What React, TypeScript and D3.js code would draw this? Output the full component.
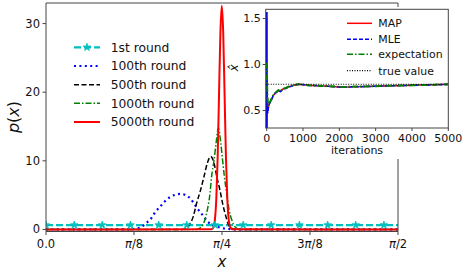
import React from 'react';
import * as d3 from 'd3';

const PI = Math.PI;

// main panel: posterior p(x) after n rounds
const roundLabels = ['1st round', '100th round', '500th round', '1000th round', '5000th round'];

const priorX = [0, PI / 2];
const priorY = [0.637, 0.637];
const priorMarkX = [0, 0.126, 0.251, 0.377, 0.503, 0.628, 0.754, 0.88, 1.005, 1.131, 1.257, 1.382, 1.508];

const r100X = [0, 0.366, 0.406, 0.428, 0.446, 0.469, 0.486, 0.509, 0.531, 0.553, 0.576, 0.598, 0.62, 0.643, 0.66, 0.678, 0.701, 0.719, 0.745, 0.768, 0.799, 0.843, PI / 2];
const r100Y = [0, 0.02, 0.15, 0.4, 0.9, 1.6, 2.45, 3.3, 4.1, 4.7, 5.05, 5.18, 5.05, 4.55, 3.8, 2.95, 2.0, 1.2, 0.65, 0.35, 0.12, 0.02, 0];

const r500X = [0, 0.611, 0.629, 0.639, 0.657, 0.672, 0.69, 0.705, 0.72, 0.735, 0.75, 0.762, 0.776, 0.788, 0.803, 0.815, 0.829, 0.843, PI / 2];
const r500Y = [0, 0, 0.17, 0.65, 1.87, 3.8, 5.77, 7.7, 9.66, 10.63, 9.66, 7.7, 5.77, 3.8, 1.87, 0.65, 0.17, 0, 0];

const r1000X = [0, 0.669, 0.695, 0.709, 0.72, 0.732, 0.739, 0.75, 0.759, 0.769, 0.78, 0.788, 0.796, 0.806, 0.817, 0.829, 0.843, 0.866, PI / 2];
const r1000Y = [0, 0, 0.4, 1.4, 2.85, 5.3, 7.7, 10.1, 12.6, 14.77, 12.6, 10.1, 7.7, 5.3, 2.85, 1.4, 0.4, 0, 0];

const r5000X = [0, 0.7353, 0.7415, 0.7476, 0.7538, 0.7599, 0.7661, 0.7722, 0.7784, 0.7845, 0.7907, 0.7968, 0.803, 0.8091, 0.8153, 0.8214, 0.8276, 0.8337, PI / 2];
const r5000Y = [0, 0.01, 0.07, 0.36, 1.43, 4.41, 10.6, 19.8, 28.8, 32.6, 28.8, 19.8, 10.6, 4.41, 1.43, 0.36, 0.07, 0.01, 0];

const xTicks = [0, PI / 8, PI / 4, (3 * PI) / 8, PI / 2];
const xTickLabels = [['', '0.0'], ['', '/8'], ['', '/4'], ['3', '/8'], ['', '/2']];
const yTicks = [0, 10, 20, 30];

// inset: estimate of x vs iterations
const estLabels = ['MAP', 'MLE', 'expectation', 'true value'];
const trueValue = PI / 4;
const estIters = [0, 2, 4, 6, 9, 13, 20, 30, 44, 70, 100, 138, 170, 209, 260, 319, 380, 457, 530, 595, 660, 732, 850, 964, 1145, 1421, 1700, 2000, 2110, 2400, 2700, 3000, 3400, 3800, 4200, 4600, 5000];
const mapVals = [1.5708, 0.05, 1.52, 0.3, 0.85, 0.5, 0.56, 0.5, 0.53, 0.575, 0.595, 0.625, 0.655, 0.678, 0.698, 0.717, 0.707, 0.737, 0.742, 0.757, 0.763, 0.773, 0.784, 0.784, 0.774, 0.769, 0.764, 0.756, 0.753, 0.759, 0.761, 0.765, 0.77, 0.773, 0.777, 0.78, 0.785];
const mleVals = [1.5708, 0.0, 1.5708, 0.2, 0.9, 0.45, 0.55, 0.47, 0.52, 0.57, 0.59, 0.62, 0.65, 0.675, 0.695, 0.715, 0.705, 0.735, 0.74, 0.755, 0.762, 0.772, 0.783, 0.783, 0.773, 0.768, 0.763, 0.755, 0.752, 0.758, 0.76, 0.764, 0.769, 0.772, 0.776, 0.779, 0.784];
const expIters = [0, 10, 25, 44, 70, 100, 138, 170, 209, 260, 319, 380, 457, 530, 595, 660, 732, 850, 964, 1145, 1421, 1700, 2000, 2110, 2400, 2700, 3000, 3400, 3800, 4200, 4600, 5000];
const expVals = [1.02, 0.8, 0.62, 0.55, 0.58, 0.6, 0.63, 0.66, 0.68, 0.7, 0.72, 0.71, 0.74, 0.745, 0.76, 0.765, 0.775, 0.785, 0.785, 0.775, 0.77, 0.765, 0.757, 0.755, 0.76, 0.762, 0.765, 0.77, 0.773, 0.777, 0.78, 0.785];
const iterTicks = [0, 1000, 2000, 3000, 4000, 5000];
const estTicks = [0.5, 1.0, 1.5];

const FONT = 'DejaVu Sans';
const SPINE = '#444';

const App = () => {
    const x = d3.scaleLinear().domain([0, PI / 2]).range([46, 398]);
    const y = d3.scaleLinear().domain([-0.3, 33]).range([231.5, 3]);
    const line = (xs: number[], ys: number[]) =>
        d3.line<number>().x((_, i) => x(xs[i])).y((_, i) => y(ys[i])).curve(d3.curveMonotoneX)(xs) || '';

    const ix = d3.scaleLinear().domain([-27, 5000]).range([265.7, 448.3]);
    const iy = d3.scaleLinear().domain([0.31, 1.6]).range([128, 9.3]);
    const iline = (xs: number[], ys: number[]) =>
        d3.line<number>().x((_, i) => ix(xs[i])).y((_, i) => iy(ys[i]))(xs) || '';

    const star = d3.symbol().type(d3.symbolStar).size(18)() || '';

    // main series styles
    const series = [
        { xs: priorX, ys: priorY, color: '#00bfbf', w: 2.2, dash: '7,3' },
        { xs: r100X, ys: r100Y, color: '#0000ff', w: 2.2, dash: '2,3.4' },
        { xs: r500X, ys: r500Y, color: '#000000', w: 1.5, dash: '5,2.5' },
        { xs: r1000X, ys: r1000Y, color: '#008000', w: 1.5, dash: '6,2,1.5,2' },
        { xs: r5000X, ys: r5000Y, color: '#ff0000', w: 2, dash: undefined },
    ];
    const legendY = [47.3, 66, 84.7, 103.3, 122];

    const est = [
        { xs: estIters, ys: mapVals, color: '#ff0000', w: 1.5, dash: undefined },
        { xs: estIters, ys: mleVals, color: '#0000ff', w: 1.5, dash: '4,2' },
        { xs: expIters, ys: expVals, color: '#008000', w: 2, dash: '6,2,1.5,2' },
        { xs: [-27, 5000], ys: [trueValue, trueValue], color: '#000000', w: 1.2, dash: '1,1.5' },
    ];
    const estLegendY = [23.3, 39.3, 54.3, 70.7];

    return (
        <svg width={463} height={269} style={{ position: 'absolute', left: 0, top: 0 }} fontFamily={FONT}>
            <rect width={463} height={269} fill="#fff" />
            <defs>
                <clipPath id="mainClip"><rect x={46} y={3} width={352} height={228.5} /></clipPath>
                <clipPath id="insetClip"><rect x={265.7} y={9.3} width={182.6} height={118.7} /></clipPath>
            </defs>

            {/* main curves */}
            <g clipPath="url(#mainClip)">
                {series.map((s, i) => (
                    <path key={i} d={line(s.xs, s.ys)} fill="none" stroke={s.color} strokeWidth={s.w}
                        strokeDasharray={s.dash} />
                ))}
                {priorMarkX.map((v, i) => (
                    <path key={'m' + i} d={star} transform={`translate(${x(v)},${y(priorY[0])})`} fill="#00bfbf" stroke="#00bfbf" strokeWidth={0.8} />
                ))}
            </g>

            {/* main spines */}
            <path d={`M46,231.5V3H398V231.5H46`} fill="none" stroke={SPINE} strokeWidth={1} />

            {/* main ticks */}
            {yTicks.map(t => (
                <g key={t} transform={`translate(46,${y(t)})`}>
                    <line x1={-3.5} x2={0} stroke={SPINE} />
                    <text x={-6} dy="0.35em" textAnchor="end" fontSize={11.5} fill="#111">{t}</text>
                </g>
            ))}
            {xTicks.map((t, i) => (
                <g key={i} transform={`translate(${x(t)},231.5)`}>
                    <line y1={0} y2={3.5} stroke={SPINE} />
                    <text y={16.5} textAnchor="middle" fontSize={11.5} fill="#111">
                        {i === 0 ? xTickLabels[i][1] : (<>{xTickLabels[i][0]}<tspan fontStyle="italic">π</tspan>{xTickLabels[i][1]}</>)}
                    </text>
                </g>
            ))}
            <text x={222} y={266.5} textAnchor="middle" fontSize={15} fontStyle="italic" fill="#111">x</text>
            <text transform="translate(19,117) rotate(-90)" textAnchor="middle" fontSize={16} fill="#111">
                <tspan fontStyle="italic">p</tspan>(<tspan fontStyle="italic">x</tspan>)
            </text>

            {/* main legend */}
            {roundLabels.map((lab, i) => (
                <g key={lab}>
                    <line x1={74} x2={100} y1={legendY[i]} y2={legendY[i]} stroke={series[i].color}
                        strokeWidth={series[i].w} strokeDasharray={series[i].dash} />
                    {i === 0 && <path d={star} transform={`translate(87,${legendY[i]})`} fill="#00bfbf" stroke="#00bfbf" strokeWidth={0.8} />}
                    <text x={110.7} y={legendY[i]} dy="0.35em" fontSize={12.3} fill="#111">{lab}</text>
                </g>
            ))}

            {/* inset */}
            <rect x={228} y={7} width={235} height={152} fill="#fff" />
            <g clipPath="url(#insetClip)">
                {est.map((s, i) => (
                    <path key={i} d={iline(s.xs, s.ys)} fill="none" stroke={s.color} strokeWidth={s.w}
                        strokeDasharray={s.dash} />
                ))}
            </g>
            <rect x={265.7} y={9.3} width={182.6} height={118.7} fill="none" stroke={SPINE} strokeWidth={1} />
            {estTicks.map(t => (
                <g key={t} transform={`translate(265.7,${iy(t)})`}>
                    <line x1={-3} x2={0} stroke={SPINE} />
                    <text x={-5} dy="0.35em" textAnchor="end" fontSize={11} fill="#111">{t.toFixed(1)}</text>
                </g>
            ))}
            {iterTicks.map(t => (
                <g key={t} transform={`translate(${ix(t)},128)`}>
                    <line y1={0} y2={3} stroke={SPINE} />
                    <text y={13.5} textAnchor="middle" fontSize={11} fill="#111">{t}</text>
                </g>
            ))}
            <text x={357} y={154} textAnchor="middle" fontSize={11} fill="#111">iterations</text>
            <text transform="translate(238,68) rotate(-90)" textAnchor="middle" fontSize={12} fontStyle="italic" fill="#111">x̂</text>

            {estLabels.map((lab, i) => (
                <g key={lab}>
                    <line x1={347} x2={372} y1={estLegendY[i]} y2={estLegendY[i]} stroke={est[i].color}
                        strokeWidth={i === 3 ? 1.2 : 1.5} strokeDasharray={est[i].dash} />
                    <text x={378.3} y={estLegendY[i]} dy="0.35em" fontSize={10.9} fill="#111">{lab}</text>
                </g>
            ))}
        </svg>
    );
};

export default App;
